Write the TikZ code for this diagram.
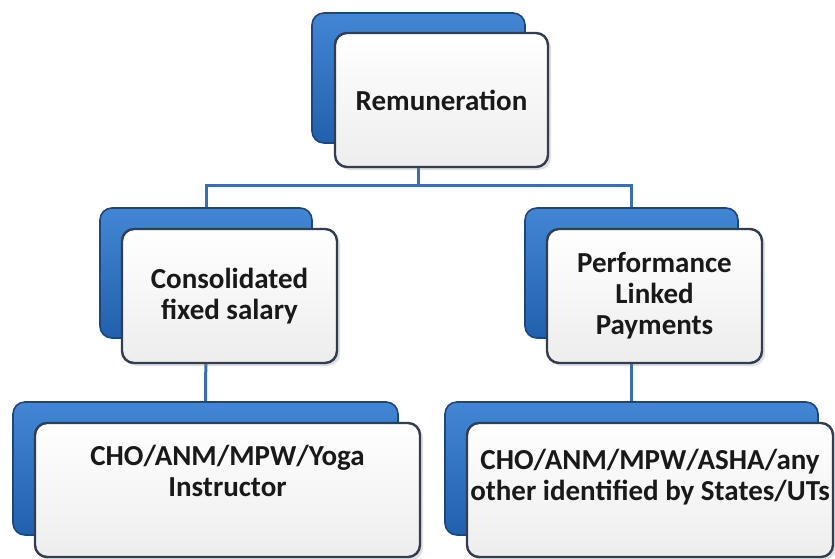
\documentclass[tikz,border=0pt]{standalone}
\usepackage{fontspec}
\setmainfont{Carlito}
\usetikzlibrary{shadows,backgrounds}

\definecolor{boxtop}{RGB}{66,135,212}
\definecolor{boxbottom}{RGB}{34,96,172}
\definecolor{boxedge}{RGB}{28,70,128}
\definecolor{linkblue}{RGB}{58,110,178}
\definecolor{frameedge}{RGB}{50,62,80}

\tikzset{
  backbox/.style={draw=boxedge, line width=0.8pt, rounded corners=6pt,
    top color=boxtop, bottom color=boxbottom, inner sep=0pt},
  frontbox/.style={draw=frameedge, line width=1.2pt, rounded corners=6pt,
    top color=white, bottom color=black!7, inner sep=0pt, align=center,
    drop shadow={opacity=0.25, shadow xshift=1.5pt, shadow yshift=-1.5pt},
    font=\fontsize{14.5pt}{15.5pt}\selectfont\bfseries, text=black!90},
  link/.style={draw=linkblue, line width=1.5pt}
}

\begin{document}
\begin{tikzpicture}[x=0.5pt, y=-0.5pt]
\useasboundingbox (0,0) rectangle (835,558);
% top
\node[backbox, minimum width=106.5pt, minimum height=65pt] (remb) at (418.5,78) {};
\node[frontbox, minimum width=106.5pt, minimum height=67pt] (rem) at (441.5,100) {Remuneration};
% second row
\node[backbox, minimum width=106pt, minimum height=65pt] (fixb) at (206,273) {};
\node[frontbox, minimum width=107.5pt, minimum height=67pt] (fix) at (229.5,296) {Consolidated\\fixed salary};
\node[backbox, minimum width=106.5pt, minimum height=65pt] (perfb) at (631.5,273) {};
\node[frontbox, minimum width=107.5pt, minimum height=67pt] (perf) at (654.5,296) {Performance\\Linked\\Payments};
% third row
\node[backbox, minimum width=192.5pt, minimum height=66.5pt] (fixstaffb) at (205.5,468.5) {};
\node[frontbox, minimum width=192.5pt, minimum height=67pt, text depth=19.5pt] (fixstaff) at (227.5,490) {CHO/ANM/MPW/Yoga\\Instructor};
\node[backbox, minimum width=186.5pt, minimum height=66.5pt] (perfstaffb) at (631.5,468.5) {};
\node[frontbox, minimum width=183pt, minimum height=67pt, text depth=15pt] (perfstaff) at (650,490) {CHO/ANM/MPW/ASHA/any\\other identified by States/UTs};
% connectors
\coordinate (bus) at (418.5,185);
\begin{scope}[on background layer]
\draw[link] (remb.center) -- (bus);
\draw[link] (fixb.center) |- (bus) -| (perfb.center);
\draw[link] (fixb.center) -- (fixstaffb.center);
\draw[link] (perfb.center) -- (perfstaffb.center);
\end{scope}
\end{tikzpicture}
\end{document}
